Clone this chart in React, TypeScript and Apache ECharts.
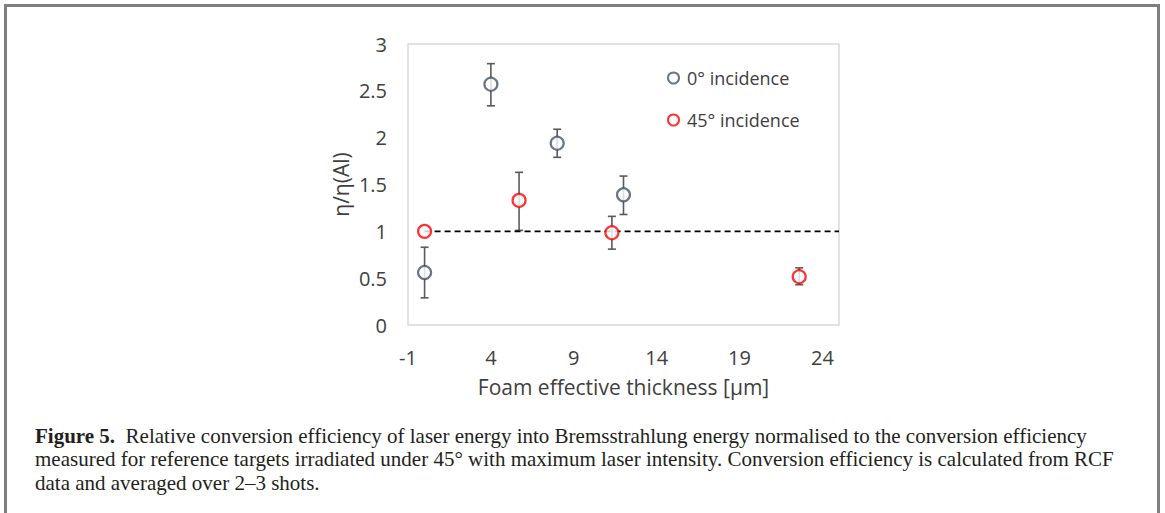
import React, { useEffect, useRef } from "react";
import * as echarts from "echarts";

// ---- data ----
const xTickValues = [-1, 4, 9, 14, 19, 24];

const normalX = [0, 4, 8, 12];
const normalY = [0.56, 2.57, 1.94, 1.39];
const normalLow = [0.29, 2.34, 1.79, 1.18];
const normalHigh = [0.83, 2.79, 2.09, 1.59];

const obliqueX = [0, 5.7, 11.3, 22.6];
const obliqueY = [1.0, 1.33, 0.985, 0.515];
const obliqueLow = [1.0, 1.01, 0.81, 0.43];
const obliqueHigh = [1.0, 1.63, 1.16, 0.61];

const refLineX = [0, 25];
const refLineY = [1, 1];

const legendNames = ["0° incidence", "45° incidence"];

const captionLines = [
  "{b|Figure 5.}  Relative conversion efficiency of laser energy into Bremsstrahlung energy normalised to the conversion efficiency",
  "measured for reference targets irradiated under 45° with maximum laser intensity. Conversion efficiency is calculated from RCF",
  "data and averaged over 2–3 shots.",
];

const FONT = "'Open Sans', sans-serif";
const SERIF = "'Liberation Serif', serif";
const CAPTION_SIZE = 21;

function errorSeries(xs: number[], lows: number[], highs: number[]) {
  return {
    type: "custom",
    silent: true,
    z: 1,
    data: xs.map((x, i) => [x, lows[i], highs[i]]),
    renderItem: (params: any, api: any) => {
      const x = api.value(0);
      const lo = api.coord([x, api.value(1)]);
      const hi = api.coord([x, api.value(2)]);
      const cap = 4;
      const style = { stroke: "#5a5a5a", lineWidth: 1.6 };
      if (Math.abs(lo[1] - hi[1]) < 1) return { type: "group", children: [] };
      return {
        type: "group",
        children: [
          { type: "line", shape: { x1: lo[0], y1: lo[1], x2: hi[0], y2: hi[1] }, style },
          { type: "line", shape: { x1: lo[0] - cap, y1: lo[1], x2: lo[0] + cap, y2: lo[1] }, style },
          { type: "line", shape: { x1: hi[0] - cap, y1: hi[1], x2: hi[0] + cap, y2: hi[1] }, style },
        ],
      };
    },
  };
}

export default function App() {
  const ref = useRef<HTMLDivElement>(null);
  useEffect(() => {
    document.body.style.margin = "0";
    const chart = echarts.init(ref.current!, null, { renderer: "svg" });
    chart.setOption({
      animation: false,
      backgroundColor: "#ffffff",
      grid: {
        left: 408,
        right: 326,
        top: 44,
        bottom: 188,
        show: true,
        borderColor: "#d9d9d9",
        borderWidth: 1.5,
        backgroundColor: "transparent",
      },
      legend: {
        orient: "vertical",
        left: 662,
        top: 64,
        itemWidth: 11,
        itemHeight: 11,
        itemGap: 24,
        itemStyle: { borderWidth: 2 },
        data: legendNames,
        textStyle: { fontFamily: FONT, fontSize: 18, color: "#404040", padding: [0, 0, 0, 3] },
      },
      xAxis: {
        type: "value",
        min: -1,
        max: 25,
        axisLine: { show: false },
        axisTick: { show: false },
        splitLine: { show: false },
        axisLabel: {
          customValues: xTickValues,
          fontFamily: FONT,
          fontSize: 20,
          color: "#404040",
          margin: 22,
        },
        name: "Foam effective thickness [μm]",
        nameLocation: "middle",
        nameGap: 51,
        nameTextStyle: { fontFamily: FONT, fontSize: 21, color: "#404040" },
      },
      yAxis: {
        type: "value",
        min: 0,
        max: 3,
        interval: 0.5,
        axisLine: { show: false },
        axisTick: { show: false },
        splitLine: { show: false },
        axisLabel: {
          fontFamily: FONT,
          fontSize: 20,
          color: "#404040",
          margin: 21,
        },
        name: "η/η(Al)",
        nameLocation: "middle",
        nameGap: 57,
        nameRotate: 90,
        nameTextStyle: { fontFamily: FONT, fontSize: 21, color: "#404040" },
      },
      series: [
        {
          type: "line",
          data: refLineX.map((x, i) => [x, refLineY[i]]),
          symbol: "none",
          silent: true,
          z: 1,
          lineStyle: { color: "#000000", width: 1.6, type: [6, 4] },
        },
        errorSeries(normalX, normalLow, normalHigh),
        errorSeries(obliqueX, obliqueLow, obliqueHigh),
        {
          name: legendNames[0],
          type: "scatter",
          z: 3,
          symbol: "circle",
          symbolSize: 13,
          data: normalX.map((x, i) => [x, normalY[i]]),
          itemStyle: { color: "#ffffff", borderColor: "#44546a", borderWidth: 2.2 },
        },
        {
          name: legendNames[1],
          type: "scatter",
          z: 3,
          symbol: "circle",
          symbolSize: 13,
          data: obliqueX.map((x, i) => [x, obliqueY[i]]),
          itemStyle: { color: "#ffffff", borderColor: "#ff0000", borderWidth: 2.2 },
        },
      ],
      graphic: [
        {
          type: "rect",
          shape: { x: 5.5, y: 5.5, width: 1153, height: 560 },
          style: { fill: "none", stroke: "#7f7f7f", lineWidth: 3 },
          silent: true,
        },
        ...captionLines.map((t, i) => ({
          type: "text",
          x: 35,
          y: 436 + i * 23.3,
          style: {
            text: t,
            fontFamily: SERIF,
            fontSize: CAPTION_SIZE,
            fill: "#231f20",
            verticalAlign: "middle",
            rich: {
              b: { fontFamily: SERIF, fontSize: CAPTION_SIZE, fontWeight: "bold", fill: "#231f20" },
            },
          },
        })),
      ],
    });
    return () => chart.dispose();
  }, []);
  return <div ref={ref} style={{ width: 1165, height: 513 }} />;
}
